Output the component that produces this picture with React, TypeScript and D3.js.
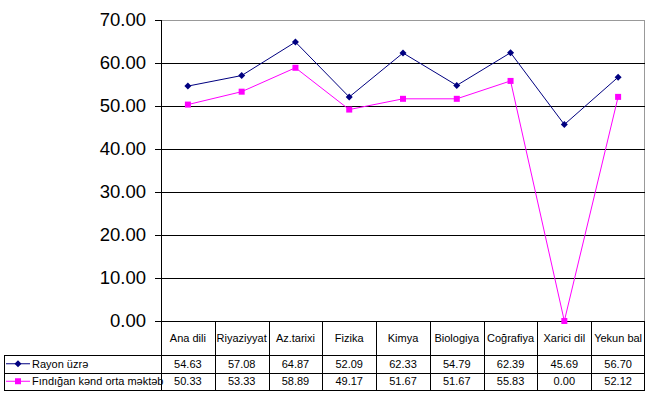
import React from "react";
import * as d3 from "d3";

const subjects = [
  "Ana dili",
  "Riyaziyyat",
  "Az.tarixi",
  "Fizika",
  "Kimya",
  "Biologiya",
  "Coğrafiya",
  "Xarici dil",
  "Yekun bal",
];
const rayonValues = [54.63, 57.08, 64.87, 52.09, 62.33, 54.79, 62.39, 45.69, 56.7];
const schoolValues = [50.33, 53.33, 58.89, 49.17, 51.67, 51.67, 55.83, 0.0, 52.12];
const yTicks = [0, 10, 20, 30, 40, 50, 60, 70];

const seriesList = [
  { name: "Rayon üzrə", values: rayonValues, color: "#000080", marker: "diamond" },
  { name: "Fındığan kənd orta məktəb", values: schoolValues, color: "#FF00FF", marker: "square" },
];

const W = 650;
const H = 398;
const plot = { left: 161, right: 645, top: 20, bottom: 321 };
const tableLeft = 4;
const headerBottom = 355;
const rowH = 17.5;
const font = "'Liberation Sans', Arial, sans-serif";

const Marker = ({ kind, x, y, color }: { kind: string; x: number; y: number; color: string }) =>
  kind === "diamond" ? (
    <path d={`M${x},${y - 3.5}L${x + 3.5},${y}L${x},${y + 3.5}L${x - 3.5},${y}Z`} fill={color} />
  ) : (
    <rect x={x - 3} y={y - 3} width={6} height={6} fill={color} />
  );

export default function App() {
  const x = d3.scaleBand<string>().domain(subjects).range([plot.left, plot.right]);
  const y = d3.scaleLinear().domain([0, 70]).range([plot.bottom, plot.top]);
  const cx = (s: string) => (x(s) as number) + x.bandwidth() / 2;
  const fmt = d3.format(".2f");
  const tableBottom = headerBottom + rowH * seriesList.length;

  return (
    <svg
      width={W}
      height={H}
      style={{ position: "absolute", left: 0, top: 0, background: "#fff" }}
      fontFamily={font}
    >
      {/* plot border */}
      <line x1={plot.left} x2={plot.right} y1={plot.top + 0.5} y2={plot.top + 0.5} stroke="#999" />
      <line x1={plot.right - 0.5} x2={plot.right - 0.5} y1={plot.top} y2={plot.bottom} stroke="#999" />

      {/* gridlines + y ticks */}
      {yTicks.map((t) => (
        <g key={t}>
          {t < 70 && (
            <line x1={plot.left} x2={plot.right} y1={Math.round(y(t)) + 0.5} y2={Math.round(y(t)) + 0.5} stroke="#000" />
          )}
          <line x1={plot.left - 6} x2={plot.left} y1={Math.round(y(t)) + 0.5} y2={Math.round(y(t)) + 0.5} stroke="#000" />
          <text x={146} y={y(t)} dy="0.35em" textAnchor="end" fontSize={18.5} fill="#000">
            {fmt(t)}
          </text>
        </g>
      ))}
      <line x1={plot.left + 0.5} x2={plot.left + 0.5} y1={plot.top} y2={plot.bottom} stroke="#000" />

      {/* series */}
      {seriesList.map((s) => {
        const line = d3
          .line<number>()
          .x((_, i) => cx(subjects[i]))
          .y((d) => y(d));
        return (
          <g key={s.name}>
            <path d={line(s.values) || ""} fill="none" stroke={s.color} strokeWidth={1} />
            {s.values.map((v, i) => (
              <Marker key={i} kind={s.marker} x={cx(subjects[i])} y={y(v)} color={s.color} />
            ))}
          </g>
        );
      })}

      {/* data table */}
      <g fontSize={11} fill="#000">
        {/* horizontal lines */}
        {[headerBottom, headerBottom + rowH, tableBottom].map((ly, i) => (
          <line key={i} x1={tableLeft} x2={plot.right} y1={Math.round(ly) + 0.5} y2={Math.round(ly) + 0.5} stroke="#000" />
        ))}
        {/* vertical lines */}
        {subjects.map((s) => (
          <line key={s} x1={Math.round(x(s) as number) + 0.5} x2={Math.round(x(s) as number) + 0.5} y1={plot.bottom} y2={tableBottom} stroke="#000" />
        ))}
        <line x1={plot.right - 0.5} x2={plot.right - 0.5} y1={plot.bottom} y2={tableBottom} stroke="#000" />
        <line x1={tableLeft + 0.5} x2={tableLeft + 0.5} y1={headerBottom} y2={tableBottom} stroke="#000" />

        {subjects.map((s) => (
          <text key={s} x={cx(s)} y={(plot.bottom + headerBottom) / 2} dy="0.35em" textAnchor="middle">
            {s}
          </text>
        ))}

        {seriesList.map((s, r) => {
          const ry = headerBottom + rowH * r + rowH / 2;
          return (
            <g key={s.name}>
              <line x1={tableLeft + 2} x2={tableLeft + 26} y1={ry} y2={ry} stroke={s.color} />
              <Marker kind={s.marker} x={tableLeft + 14} y={ry} color={s.color} />
              <text x={tableLeft + 28} y={ry} dy="0.35em">
                {s.name}
              </text>
              {s.values.map((v, i) => (
                <text key={i} x={cx(subjects[i])} y={ry} dy="0.35em" textAnchor="middle">
                  {fmt(v)}
                </text>
              ))}
            </g>
          );
        })}
      </g>
    </svg>
  );
}
